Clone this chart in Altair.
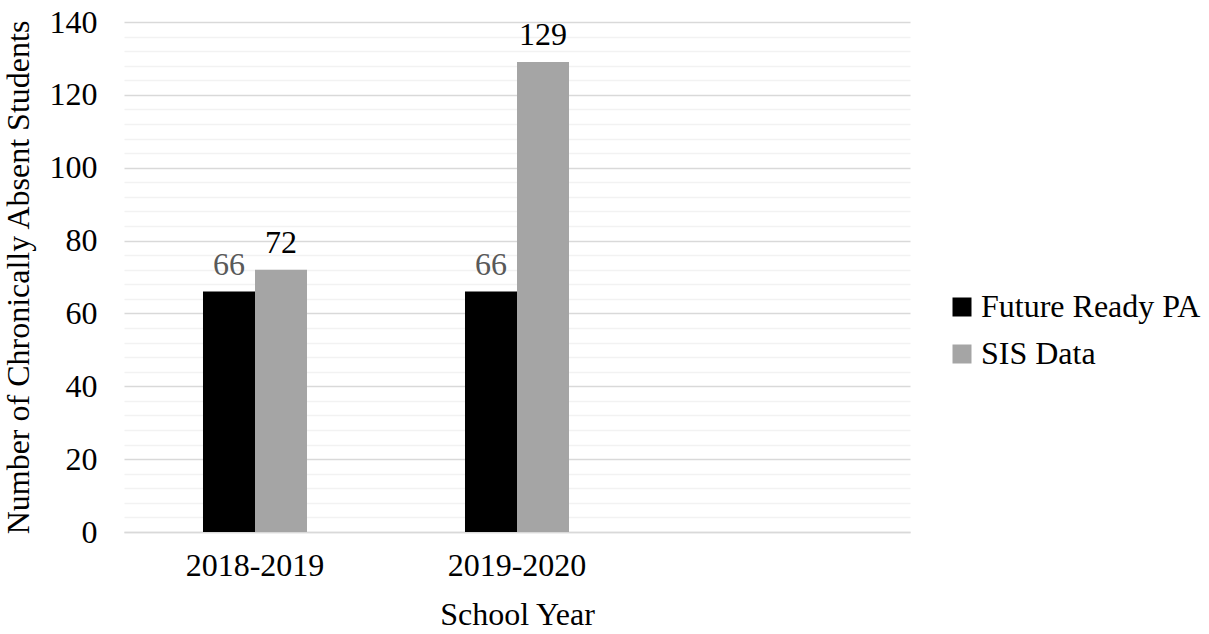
import altair as alt
import pandas as pd

years = ["2018-2019", "2019-2020"]
blank_slot = [" "]
series = ["Future Ready PA", "SIS Data"]
future_ready = [66, 66]
sis_data = [72, 129]
colors = ["#000000", "#A5A5A5"]
label_colors = ["#595959", "#000000"]
y_ticks = list(range(0, 141, 4))

rows = []
for i, y in enumerate(years):
    rows.append({"year": y, "series": series[0], "value": future_ready[i]})
    rows.append({"year": y, "series": series[1], "value": sis_data[i]})
df = pd.DataFrame(rows)

FONT = "Liberation Serif"
FS = 32

x_scale = alt.Scale(domain=years + blank_slot, paddingInner=0.603, paddingOuter=0.3015)
x_enc = alt.X(
    "year:N",
    scale=x_scale,
    axis=alt.Axis(
        title="School Year",
        labelAngle=0,
        ticks=False,
        domainColor="#D9D9D9",
        domainWidth=1.5,
        labelPadding=18,
        titlePadding=18,
        labelColor="#000000",
        titleColor="#000000",
        titleFontWeight="normal",
        labelFont=FONT,
        titleFont=FONT,
        labelFontSize=FS,
        titleFontSize=FS,
    ),
)
xoff = alt.XOffset("series:N", scale=alt.Scale(domain=series))
y_enc = alt.Y(
    "value:Q",
    scale=alt.Scale(domain=[0, 140], nice=False),
    axis=alt.Axis(
        title="Number of Chronically Absent Students",
        values=y_ticks,
        labelExpr="datum.value % 20 == 0 ? datum.label : ''",
        labelOverlap=False,
        gridColor=alt.condition("datum.value % 20 == 0", alt.value("#D9D9D9"), alt.value("#F2F2F2")),
        gridWidth=1.5,
        ticks=False,
        domain=False,
        labelPadding=27,
        titlePadding=14,
        labelColor="#000000",
        titleColor="#000000",
        titleFontWeight="normal",
        labelFont=FONT,
        titleFont=FONT,
        labelFontSize=FS,
        titleFontSize=FS,
    ),
)

base = alt.Chart(df).encode(x=x_enc, xOffset=xoff, y=y_enc)

bars = base.mark_bar().encode(
    color=alt.Color(
        "series:N",
        scale=alt.Scale(domain=series, range=colors),
        legend=alt.Legend(
            title=None,
            orient="none",
            legendX=822,
            legendY=269,
            symbolType="square",
            symbolSize=361,
            symbolStrokeWidth=0,
            labelFontSize=FS,
            labelFont=FONT,
            labelColor="#000000",
            labelLimit=0,
            rowPadding=15,
            labelOffset=3,
        ),
    ),
)

labels = base.mark_text(
    baseline="alphabetic", dy=-17, font=FONT, fontSize=FS
).encode(
    text=alt.Text("value:Q"),
    color=alt.Color("series:N", scale=alt.Scale(domain=series, range=label_colors), legend=None),
)

chart = (
    alt.layer(bars, labels)
    .resolve_scale(color="independent")
    .properties(
        width=786,
        height=510,
        background="white",
        autosize=alt.AutoSizeParams(type="none"),
        padding={"left": 124, "top": 22, "right": 299, "bottom": 102},
    )
    .configure_view(stroke=None)
)

chart.save("out.html", embed_options={"renderer": "svg", "actions": False})
